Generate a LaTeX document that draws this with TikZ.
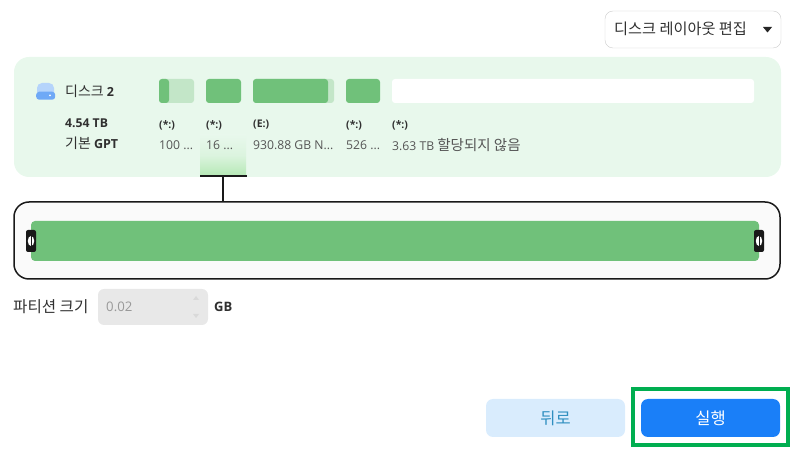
\documentclass[tikz,border=0pt]{standalone}
\usepackage{fontspec}
\setmainfont{Open Sans}
\newfontfamily\kr{Noto Sans CJK KR}
\usetikzlibrary{calc,positioning}

\definecolor{panelgreen}{HTML}{E8F8EC}
\definecolor{bargreen}{HTML}{70C17A}
\definecolor{barlight}{HTML}{C3E6C8}
\definecolor{glowgreen}{HTML}{B5E8B5}
\definecolor{framefill}{HTML}{FAFAFA}
\definecolor{spinfill}{HTML}{E8E8E8}
\definecolor{backfill}{HTML}{D9ECFD}
\definecolor{backtext}{HTML}{2F8FC0}
\definecolor{runfill}{HTML}{1A7FF8}
\definecolor{markgreen}{HTML}{00AE50}
\definecolor{darktext}{HTML}{303030}
\definecolor{graytext}{HTML}{555555}
\definecolor{icontop}{HTML}{B5D4FB}
\definecolor{iconbottom}{HTML}{6FA9F6}

\begin{document}
\begin{tikzpicture}[x=1pt,y=-1pt]

\tikzstyle{bar}=[fill=bargreen,draw=none,rounded corners=3pt,inner sep=0pt,outer sep=0pt,minimum height=24pt,anchor=north west]
\tikzstyle{handle}=[fill=black!90,draw=none,rounded corners=2pt,inner sep=0pt,minimum width=10pt,minimum height=22pt]
\tikzstyle{boldtxt}=[inner sep=0pt,anchor=west,font=\fontsize{12.2}{12}\selectfont\bfseries,text=darktext]
\tikzstyle{graytxt}=[inner sep=0pt,anchor=west,font=\fontsize{12.2}{12}\selectfont,text=graytext]
\tikzstyle{button}=[draw=none,rounded corners=7pt,inner sep=0pt,outer sep=0pt,minimum width=139pt,minimum height=38pt,anchor=north west,font=\kr\fontsize{16.5}{16}\selectfont]

\useasboundingbox (0,0) rectangle (796,454);
\coordinate (origo) at (14,57);

% Panel dysku

\node (panel) [fill=panelgreen,draw=none,rounded corners=15pt,outer sep=0pt,minimum width=767pt,minimum height=120pt,anchor=north west] at (origo) {};

\node (layout) [draw=black!20,fill=white,rounded corners=8pt,outer sep=0pt,minimum width=176pt,minimum height=37pt,anchor=north west] at (605,11) {};
\node (layouttxt) [inner sep=0pt,anchor=west,font=\kr\fontsize{15.2}{15}\selectfont,text=darktext] at ([xshift=9pt,yshift=1pt]layout.west) {디스크 레이아웃 편집};
\fill [black!85] (763,27) -- (772,27) -- (767.5,32.5) -- cycle;

% Ikona

\fill [icontop] (37,92) -- (37,88) arc (180:90:5pt) -- (49,83) arc (90:0:5pt) -- (54,92) -- cycle;
\node (diskicon) [fill=iconbottom,draw=none,rounded corners=3pt,inner sep=0pt,minimum width=19pt,minimum height=8pt,anchor=north west] at (36,91.5) {};
\fill [white] (50,95.5) circle (1pt);

\node (diskname) [inner sep=0pt,anchor=west,font=\kr\fontsize{14}{14}\selectfont,text=darktext] at (65,91) {디스크 {\fontspec{Open Sans}\bfseries\fontsize{12.5}{12}\selectfont 2}};
\node (disksize) [boldtxt] at (65,123) {4.54 TB};
\node (disktype) [inner sep=0pt,anchor=west,font=\kr\fontsize{14}{14}\selectfont,text=darktext] at (65,143) {기본 {\fontspec{Open Sans}\bfseries\fontsize{12.5}{12}\selectfont GPT}};

% Partycje

\node (part1bg) [bar,fill=barlight,minimum width=35pt] at (159,79) {};
\node (part1) [bar,minimum width=10pt] at (159,79) {};
\node (part2) [bar,minimum width=35pt] at (206,79) {};
\node (part3bg) [bar,fill=barlight,minimum width=81pt] at (253,79) {};
\node (part3) [bar,minimum width=75pt] at (253,79) {};
\node (part4) [bar,minimum width=34pt] at (346,79) {};
\node (part5) [bar,fill=white,minimum width=362pt] at (392,79) {};

% Poswiata

\node (glow) [draw=none,top color=panelgreen,bottom color=glowgreen,middle color=panelgreen!75!glowgreen,inner sep=0pt,outer sep=0pt,minimum width=46pt,minimum height=41pt,anchor=south] at (223,176) {};

% Opisy

\foreach \name/\txt/\posx in {a/(*:)/159,b/(*:)/206,c/(E:)/253,d/(*:)/346,e/(*:)/392}
{
  \node (lab\name) [boldtxt,font=\fontsize{10.5}{10}\selectfont\bfseries] at (\posx,125) {\txt};
}
\node (vala) [graytxt] at (159,145) {100 ...};
\node (valb) [graytxt] at (206,145) {16 ...};
\node (valc) [graytxt] at (253,145) {930.88 GB N...};
\node (vald) [graytxt] at (346,145) {526 ...};
\node (vale) [graytxt] at (392,145) {3.63 TB {\kr\fontsize{14.5}{14}\selectfont 할당되지 않음}};

% Ramka

\node (frame) [draw=black!90,line width=1.5pt,fill=framefill,rounded corners=15pt,outer sep=0pt,minimum width=766pt,minimum height=77pt,anchor=north west] at (14,202) {};
\node (selbar) [bar,rounded corners=4pt,minimum width=728pt,minimum height=40pt] at (31,221) {};

\node (lefthandle) [handle] at (31,241) {};
\node (righthandle) [handle] at (759,241) {};
\foreach \h in {lefthandle,righthandle}
{
  \fill [white] (\h.center) ellipse (3.2pt and 5pt);
  \draw [black!90,line width=0.9pt] ([yshift=6pt]\h.center) -- ([yshift=-6pt]\h.center);
}

% Lacznik

\coordinate (bracketleft) at (200,176);
\coordinate (bracketright) at (247,176);
\coordinate (bracketmid) at (223,176);
\draw [black!90,line width=1.5pt] (bracketleft) -- (bracketright);
\draw [black!90,line width=1.5pt] (bracketmid) -- (bracketmid |- frame.north);

% Rozmiar

\node (sizelab) [inner sep=0pt,anchor=west,font=\kr\fontsize{15.6}{15}\selectfont,text=darktext] at (13,307) {파티션 크기};
\node (spin) [fill=spinfill,draw=none,rounded corners=6pt,outer sep=0pt,minimum width=110pt,minimum height=36pt,anchor=north west] at (98,289) {};
\node (spintxt) [graytxt,text=black!40,font=\fontsize{13.2}{13}\selectfont] at ([xshift=8pt]spin.west) {0.02};
\fill [black!15] (193,300) -- (199,300) -- (196,296) -- cycle;
\fill [black!15] (193,314) -- (199,314) -- (196,318) -- cycle;
\node (sizeunit) [boldtxt,right=6pt of spin.east,anchor=west,font=\fontsize{13}{13}\selectfont\bfseries] {GB};

% Przyciski

\node (back) [button,fill=backfill,text=backtext] at (486,399) {뒤로};
\node (run) [button,fill=runfill,text=white] at (641,399) {실행};
\node (runmark) [draw=markgreen,line width=4pt,inner sep=0pt,outer sep=0pt,minimum width=155pt,minimum height=56pt,anchor=north west] at (633,389) {};

\end{tikzpicture}
\end{document}
